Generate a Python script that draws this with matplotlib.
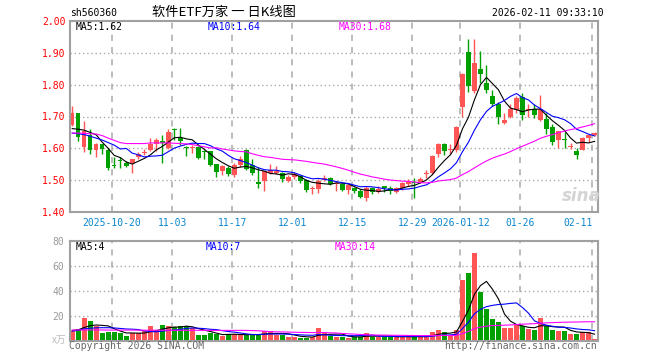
import numpy as np
import pandas as pd
import matplotlib
matplotlib.use("Agg")
import matplotlib.pyplot as plt

plt.rcParams['font.family'] = ['DejaVu Sans Mono', 'Noto Sans CJK SC']

# daily bars, 2025-10-09 .. 2026-02-11
opens = [1.672, 1.710, 1.605, 1.641, 1.594, 1.613, 1.596, 1.548, 1.563, 1.555,
         1.553, 1.572, 1.586, 1.594, 1.613, 1.622, 1.600, 1.660, 1.632, 1.602,
         1.600, 1.604, 1.592, 1.591, 1.550, 1.529, 1.537, 1.515, 1.547, 1.596,
         1.549, 1.494, 1.496, 1.521, 1.521, 1.523, 1.497, 1.509, 1.512, 1.502,
         1.471, 1.473, 1.500, 1.508, 1.487, 1.487, 1.468, 1.474, 1.466, 1.443,
         1.476, 1.464, 1.481, 1.476, 1.464, 1.474, 1.488, 1.492, 1.495, 1.519,
         1.522, 1.583, 1.614, 1.594, 1.595, 1.730, 1.903, 1.779, 1.848, 1.805,
         1.764, 1.740, 1.680, 1.699, 1.720, 1.760, 1.720, 1.723, 1.688, 1.692,
         1.667, 1.627, 1.627, 1.603, 1.592, 1.596, 1.634, 1.641]
closes = [1.712, 1.636, 1.655, 1.594, 1.614, 1.598, 1.538, 1.545, 1.560, 1.545,
          1.565, 1.582, 1.589, 1.615, 1.625, 1.618, 1.651, 1.657, 1.623, 1.600,
          1.603, 1.570, 1.588, 1.549, 1.526, 1.545, 1.518, 1.549, 1.568, 1.536,
          1.523, 1.487, 1.529, 1.531, 1.528, 1.503, 1.510, 1.518, 1.497, 1.468,
          1.473, 1.497, 1.508, 1.489, 1.491, 1.468, 1.485, 1.466, 1.447, 1.476,
          1.463, 1.471, 1.474, 1.466, 1.475, 1.491, 1.496, 1.490, 1.505, 1.521,
          1.575, 1.614, 1.593, 1.596, 1.668, 1.835, 1.796, 1.868, 1.833, 1.782,
          1.738, 1.698, 1.690, 1.724, 1.758, 1.705, 1.725, 1.704, 1.724, 1.660,
          1.620, 1.653, 1.625, 1.605, 1.579, 1.633, 1.643, 1.649]
highs = [1.732, 1.712, 1.685, 1.660, 1.617, 1.615, 1.600, 1.573, 1.572, 1.560,
         1.568, 1.587, 1.598, 1.632, 1.632, 1.641, 1.660, 1.665, 1.665, 1.608,
         1.610, 1.606, 1.596, 1.593, 1.552, 1.547, 1.543, 1.553, 1.575, 1.598,
         1.568, 1.540, 1.530, 1.550, 1.544, 1.526, 1.515, 1.526, 1.515, 1.505,
         1.482, 1.505, 1.515, 1.510, 1.494, 1.491, 1.488, 1.478, 1.471, 1.481,
         1.478, 1.481, 1.483, 1.482, 1.478, 1.494, 1.505, 1.508, 1.511, 1.531,
         1.578, 1.616, 1.616, 1.614, 1.670, 1.838, 1.943, 1.943, 1.905, 1.861,
         1.782, 1.745, 1.710, 1.738, 1.765, 1.773, 1.738, 1.740, 1.767, 1.710,
         1.676, 1.655, 1.652, 1.618, 1.600, 1.636, 1.646, 1.651]
lows = [1.670, 1.623, 1.589, 1.583, 1.573, 1.583, 1.531, 1.537, 1.538, 1.540,
        1.521, 1.568, 1.578, 1.592, 1.592, 1.553, 1.597, 1.625, 1.610, 1.575,
        1.585, 1.567, 1.565, 1.545, 1.510, 1.515, 1.512, 1.510, 1.542, 1.533,
        1.515, 1.475, 1.466, 1.520, 1.518, 1.494, 1.494, 1.505, 1.491, 1.463,
        1.458, 1.460, 1.497, 1.486, 1.466, 1.465, 1.457, 1.459, 1.444, 1.435,
        1.458, 1.459, 1.463, 1.456, 1.460, 1.468, 1.481, 1.444, 1.492, 1.508,
        1.520, 1.573, 1.578, 1.583, 1.588, 1.698, 1.777, 1.775, 1.805, 1.774,
        1.732, 1.675, 1.677, 1.695, 1.712, 1.690, 1.697, 1.695, 1.685, 1.645,
        1.612, 1.600, 1.600, 1.597, 1.565, 1.594, 1.620, 1.638]
volumes = [8, 9.3, 18.4, 15.7, 11.5, 6.4, 7.2, 7.2, 6.4, 3.7,
           6.4, 6.4, 7.5, 11.7, 8, 12.5, 11.7, 10.7, 11.7, 11.7,
           9.9, 4.5, 4.5, 6.4, 5.3, 3.7, 5.3, 5.3, 5.3, 4.5,
           4.5, 4.5, 7.7, 7.7, 4.5, 4.5, 3.2, 3.2, 2.4, 2.4,
           3.2, 10.4, 5.9, 3.7, 3.2, 3.2, 2.4, 3.2, 3.2, 5.9,
           3.2, 3.2, 3.2, 3.2, 3.2, 3.2, 3.2, 3.2, 3.2, 3.7,
           6.9, 8.5, 6.9, 4.3, 8.5, 48.5, 54.1, 70.4, 38.9, 25.3,
           17.3, 15.2, 10.1, 10.1, 12.3, 11.7, 9.3, 8.5, 18.1, 11.7,
           8.5, 8, 8, 5.3, 5.3, 6.9, 6.9, 1.6]

# MA values for the first days (window reaches before the first bar)
price_ma_head = {
    5: [1.662, 1.660, 1.657, 1.650],
    10: [1.648, 1.646, 1.643, 1.638, 1.632, 1.626, 1.618, 1.610, 1.598],
    30: [1.648, 1.648, 1.647, 1.646, 1.645, 1.640, 1.632, 1.625, 1.618, 1.615,
         1.615, 1.615, 1.615, 1.617, 1.617, 1.617, 1.617, 1.616, 1.615, 1.614,
         1.612, 1.608, 1.605, 1.601, 1.602, 1.598, 1.595, 1.592, 1.590],
}
vol_ma_head = {
    5: [8.0, 8.7, 10.6, 12.0],
    10: [7.7, 8.3, 9.5, 10.0, 10.3, 10.4, 10.4, 10.2, 9.8],
    30: [8.6, 8.6, 8.6, 8.6, 8.6, 8.6, 8.5, 8.5, 8.5, 8.5,
         8.5, 8.4, 8.4, 8.4, 8.4, 8.4, 8.4, 8.3, 8.3, 8.3,
         8.3, 8.3, 8.3, 8.25, 8.25, 8.25, 8.25, 8.25, 8.25],
}

tick_idx = [7, 17, 27, 37, 47, 57, 65, 75, 87]
tick_labels = ['2025-10-20', '11-03', '11-17', '12-01', '12-15', '12-29',
               '2026-01-12', '01-26', '02-11']
price_ticks = [1.40, 1.50, 1.60, 1.70, 1.80, 1.90, 2.00]
vol_ticks = [20, 40, 60, 80]
ma_windows = [5, 10, 30]
ma_colors = ['black', '#0000ff', '#ff00ff']
price_ma_text = ['MA5:1.62', 'MA10:1.64', 'MA30:1.68']
vol_ma_text = ['MA5:4', 'MA10:7', 'MA30:14']

RED = '#ff5555'
GREEN = '#00a000'
GRID = '#aaaaaa'
FRAME = '#a0a0a0'


def moving_avg(vals, n, head):
    s = pd.Series(vals, dtype=float).rolling(n).mean()
    s.iloc[:n - 1] = head
    return s


W, H = 660, 360
fig = plt.figure(figsize=(W / 100, H / 100), dpi=100)
ax = fig.add_axes([70 / W, 1 - 212 / H, 528 / W, 191 / H])
axv = fig.add_axes([70 / W, 1 - 340.7 / H, 528 / W, 100 / H])

o = np.array(opens); c = np.array(closes)
hi = np.array(highs); lo = np.array(lows)
v = np.array(volumes)
x = np.arange(len(c))
up = c >= o
cols = np.where(up, RED, GREEN)

# candles
ax.vlines(x, lo, hi, colors=cols, lw=1)
ax.bar(x, np.maximum(np.abs(c - o), 0.003), bottom=np.minimum(o, c),
       width=0.75, color=cols, linewidth=0)
for n, col in zip(ma_windows, ma_colors):
    ax.plot(x, moving_avg(c, n, price_ma_head[n]), color=col, lw=0.8)

# volume
axv.bar(x, v, width=0.8, color=cols, linewidth=0)
for n, col in zip(ma_windows, ma_colors):
    axv.plot(x, moving_avg(v, n, vol_ma_head[n]), color=col, lw=0.8)

for a in (ax, axv):
    a.set_xlim(-0.37, len(c) - 0.42)
    for t in tick_idx:
        a.axvline(t - 0.37, color=GRID, lw=1.1, ls=(0, (4, 4)), zorder=0)
    for s in a.spines.values():
        s.set_color(FRAME)
        s.set_linewidth(1.5)
    a.tick_params(length=0)

ax.set_ylim(1.40, 2.00)
ax.set_yticks(price_ticks)
ax.set_yticklabels(['%.2f' % p for p in price_ticks], color='#ff0000', fontsize=7)
ax.tick_params(axis='y', pad=3)
for p in price_ticks[1:-1]:
    ax.axhline(p, color=GRID, lw=1, ls=(0, (1, 2)), zorder=0)
ax.set_xticks([t - 0.37 for t in tick_idx])
ax.set_xticklabels(tick_labels, color='#0a86cc', fontsize=7)
ax.tick_params(axis='x', pad=4)
ax.get_xticklabels()[-1].set_horizontalalignment('right')

axv.set_ylim(0, 80)
axv.set_yticks(vol_ticks)
axv.set_yticklabels([str(t) for t in vol_ticks], color='#999999', fontsize=7)
axv.tick_params(axis='y', pad=4)
for t in vol_ticks[:-1]:
    axv.axhline(t, color=GRID, lw=1, ls=(0, (1, 2)), zorder=0)
axv.set_xticks([])

for txt, col, xp in zip(price_ma_text, ma_colors, [0.01, 0.26, 0.508]):
    ax.text(xp, 0.967, txt, color=col, fontsize=7, va='center', transform=ax.transAxes)
for txt, col, xp in zip(vol_ma_text, ma_colors, [0.01, 0.256, 0.502]):
    axv.text(xp, 0.94, txt, color=col, fontsize=7, va='center', transform=axv.transAxes)

# header
fig.text(70 / W, 1 - 13 / H, 'sh560360', fontsize=7, va='center')
fig.text(224 / W, 1 - 12 / H, '软件ETF万家 一 日K线图', fontsize=9.5, va='center',
         ha='center', family=['Noto Sans CJK SC', 'DejaVu Sans'])
fig.text(604 / W, 1 - 13 / H, '2026-02-11 09:33:10', fontsize=7, va='center', ha='right')

# footer
fig.text(66 / W, 1 - 340 / H, 'x万', fontsize=7, va='center', ha='right', color='#bbbbbb',
         style='italic', family=['Noto Sans CJK SC', 'DejaVu Sans'])
fig.text(69 / W, 1 - 346 / H, 'Copyright 2026 SINA.COM', fontsize=7, va='center', color='#666666')
fig.text(597 / W, 1 - 346 / H, 'http://finance.sina.com.cn', fontsize=7, va='center',
         ha='right', color='#666666')
fig.text(581 / W, 1 - 196 / H, 'sina', fontsize=12, va='center', ha='center',
         color='#d4d4d4', style='italic', weight='bold', family='DejaVu Sans')

fig.savefig('out.png', dpi=100)
